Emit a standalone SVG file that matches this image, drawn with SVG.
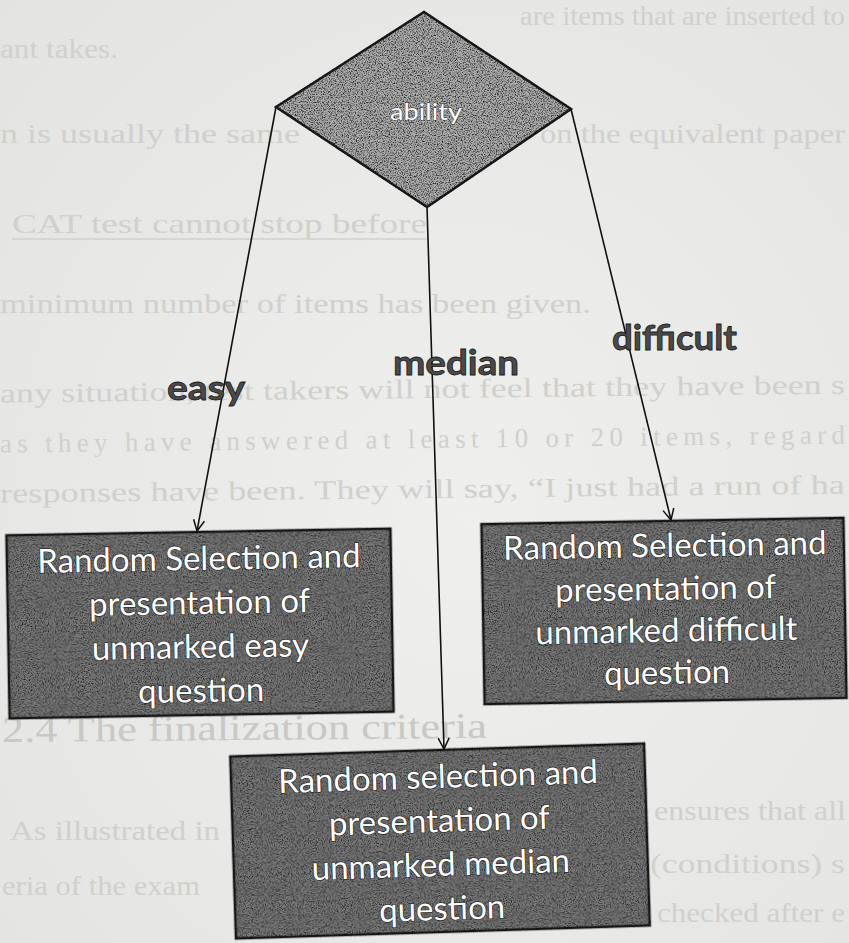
<svg xmlns="http://www.w3.org/2000/svg" width="849" height="943" viewBox="0 0 849 943">
<defs>
<style>
.bg text{font-family:"Liberation Serif",serif;font-size:27px;fill:#d0d0cd}
.bx{fill:#7b7b7b;stroke:#1c1c1c;stroke-width:2.5}
.dm{fill:#acacac;stroke:#1c1c1c;stroke-width:2.5}
.bt{font-family:Lato,"Open Sans",sans-serif;font-size:33px;fill:#fff;stroke:#262626;stroke-width:1.3px;paint-order:stroke;text-anchor:middle}
.lbl{font-family:Lato,"Open Sans",sans-serif;font-weight:bold;font-size:35px;fill:#4a4a4a;stroke:#1a1a1a;stroke-width:0.8px}
.conn line{stroke:#111;stroke-width:1.6;fill:none}
</style>
<radialGradient id="paper" cx="0.55" cy="0.55" r="0.8">
<stop offset="0" stop-color="#efefed"/>
<stop offset="1" stop-color="#e3e3e1"/>
</radialGradient>
<filter id="grain" x="-2%" y="-2%" width="104%" height="104%" color-interpolation-filters="sRGB">
<feTurbulence type="fractalNoise" baseFrequency="0.85" numOctaves="2" seed="7" result="n"/>
<feColorMatrix in="n" type="matrix" values="0 0 0 0 0  0 0 0 0 0  0 0 0 0 0  2.2 0 0 0 -0.95" result="spots"/>
<feComposite in="spots" in2="SourceAlpha" operator="in" result="s2"/>
<feMerge><feMergeNode in="SourceGraphic"/><feMergeNode in="s2"/></feMerge>
</filter>
<marker id="arr" markerWidth="14" markerHeight="14" refX="12" refY="7" orient="auto" markerUnits="userSpaceOnUse">
<path d="M1,1.5 L12,7 L1,12.5" fill="none" stroke="#111" stroke-width="1.5"/>
</marker>
</defs>

<rect x="0" y="0" width="849" height="943" fill="url(#paper)"/>

<g class="bg" id="page-text">
<text x="520" y="25" textLength="325" lengthAdjust="spacingAndGlyphs">are items that are inserted to</text>
<text x="0" y="58" textLength="118" lengthAdjust="spacingAndGlyphs">ant takes.</text>
<text x="0" y="143" textLength="300" lengthAdjust="spacingAndGlyphs">n is usually the same</text>
<text x="540" y="143" textLength="305" lengthAdjust="spacingAndGlyphs">on the equivalent paper</text>
<text x="12" y="233" textLength="415" lengthAdjust="spacingAndGlyphs">CAT test cannot stop before</text>
<line x1="12" y1="239" x2="428" y2="239" stroke="#d0d0cd" stroke-width="1.5"/>
<text x="0" y="313" textLength="591" lengthAdjust="spacingAndGlyphs">minimum number of items has been given.</text>
<text x="0" y="398" textLength="845" lengthAdjust="spacingAndGlyphs" transform="rotate(-0.6 424 398)">any situation, test takers will not feel that they have been s</text>
<text x="0" y="448" textLength="845" lengthAdjust="spacing" transform="rotate(-0.6 424 448)">as they have answered at least 10 or 20 items, regard</text>
<text x="0" y="498" textLength="845" lengthAdjust="spacingAndGlyphs" transform="rotate(-0.6 424 498)">responses have been. They will say, “I just had a run of ha</text>
<text x="2" y="740" textLength="485" lengthAdjust="spacingAndGlyphs" style="font-size:36px;fill:#c8c8c5" transform="rotate(-0.5 240 740)">2.4 The finalization criteria</text>
<text x="10" y="840" textLength="210" lengthAdjust="spacingAndGlyphs">As illustrated in</text>
<text x="654" y="820" textLength="192" lengthAdjust="spacingAndGlyphs">ensures that all</text>
<text x="2" y="895" textLength="198" lengthAdjust="spacingAndGlyphs">eria of the exam</text>
<text x="650" y="873" textLength="195" lengthAdjust="spacingAndGlyphs">(conditions) s</text>
<text x="657" y="922" textLength="188" lengthAdjust="spacingAndGlyphs">checked after e</text>
</g>

<g class="conn" id="connectors">
<line x1="276" y1="107" x2="197" y2="531" marker-end="url(#arr)"/>
<line x1="427" y1="207" x2="444" y2="749" marker-end="url(#arr)"/>
<line x1="571" y1="109" x2="671" y2="520" marker-end="url(#arr)"/>
<text class="lbl" x="167" y="400" textLength="78" lengthAdjust="spacingAndGlyphs">easy</text>
<text class="lbl" x="393" y="375" textLength="126" lengthAdjust="spacingAndGlyphs">median</text>
<text class="lbl" x="612" y="350" textLength="125" lengthAdjust="spacingAndGlyphs">difficult</text>
</g>

<g id="ability">
<polygon class="dm" points="424,12 571,109 427,207 276,107" filter="url(#grain)"/>
<text x="426" y="120" textLength="72" lengthAdjust="spacingAndGlyphs" style="font-family:Lato,'Open Sans',sans-serif;font-size:24px;fill:#fff;stroke:#333;stroke-width:0.8px;paint-order:stroke;text-anchor:middle">ability</text>
</g>

<g id="easy-box" transform="rotate(-1 200 623)">
<rect class="bx" x="8" y="532" width="384" height="183" filter="url(#grain)"/>
<text class="bt" x="200" y="570">Random Selection and</text>
<text class="bt" x="200" y="614">presentation of</text>
<text class="bt" x="200" y="658">unmarked easy</text>
<text class="bt" x="200" y="702">question</text>
</g>

<g id="difficult-box" transform="rotate(-1 664 611)">
<rect class="bx" x="483" y="521" width="362" height="180" filter="url(#grain)"/>
<text class="bt" x="666" y="557">Random Selection and</text>
<text class="bt" x="666" y="600">presentation of</text>
<text class="bt" x="666" y="642">unmarked difficult</text>
<text class="bt" x="666" y="684">question</text>
</g>

<g id="median-box" transform="rotate(-1.8 440 840)">
<rect class="bx" x="233" y="750" width="414" height="182" filter="url(#grain)"/>
<text class="bt" x="440" y="788">Random selection and</text>
<text class="bt" x="440" y="832">presentation of</text>
<text class="bt" x="440" y="876">unmarked median</text>
<text class="bt" x="440" y="920">question</text>
</g>
</svg>
